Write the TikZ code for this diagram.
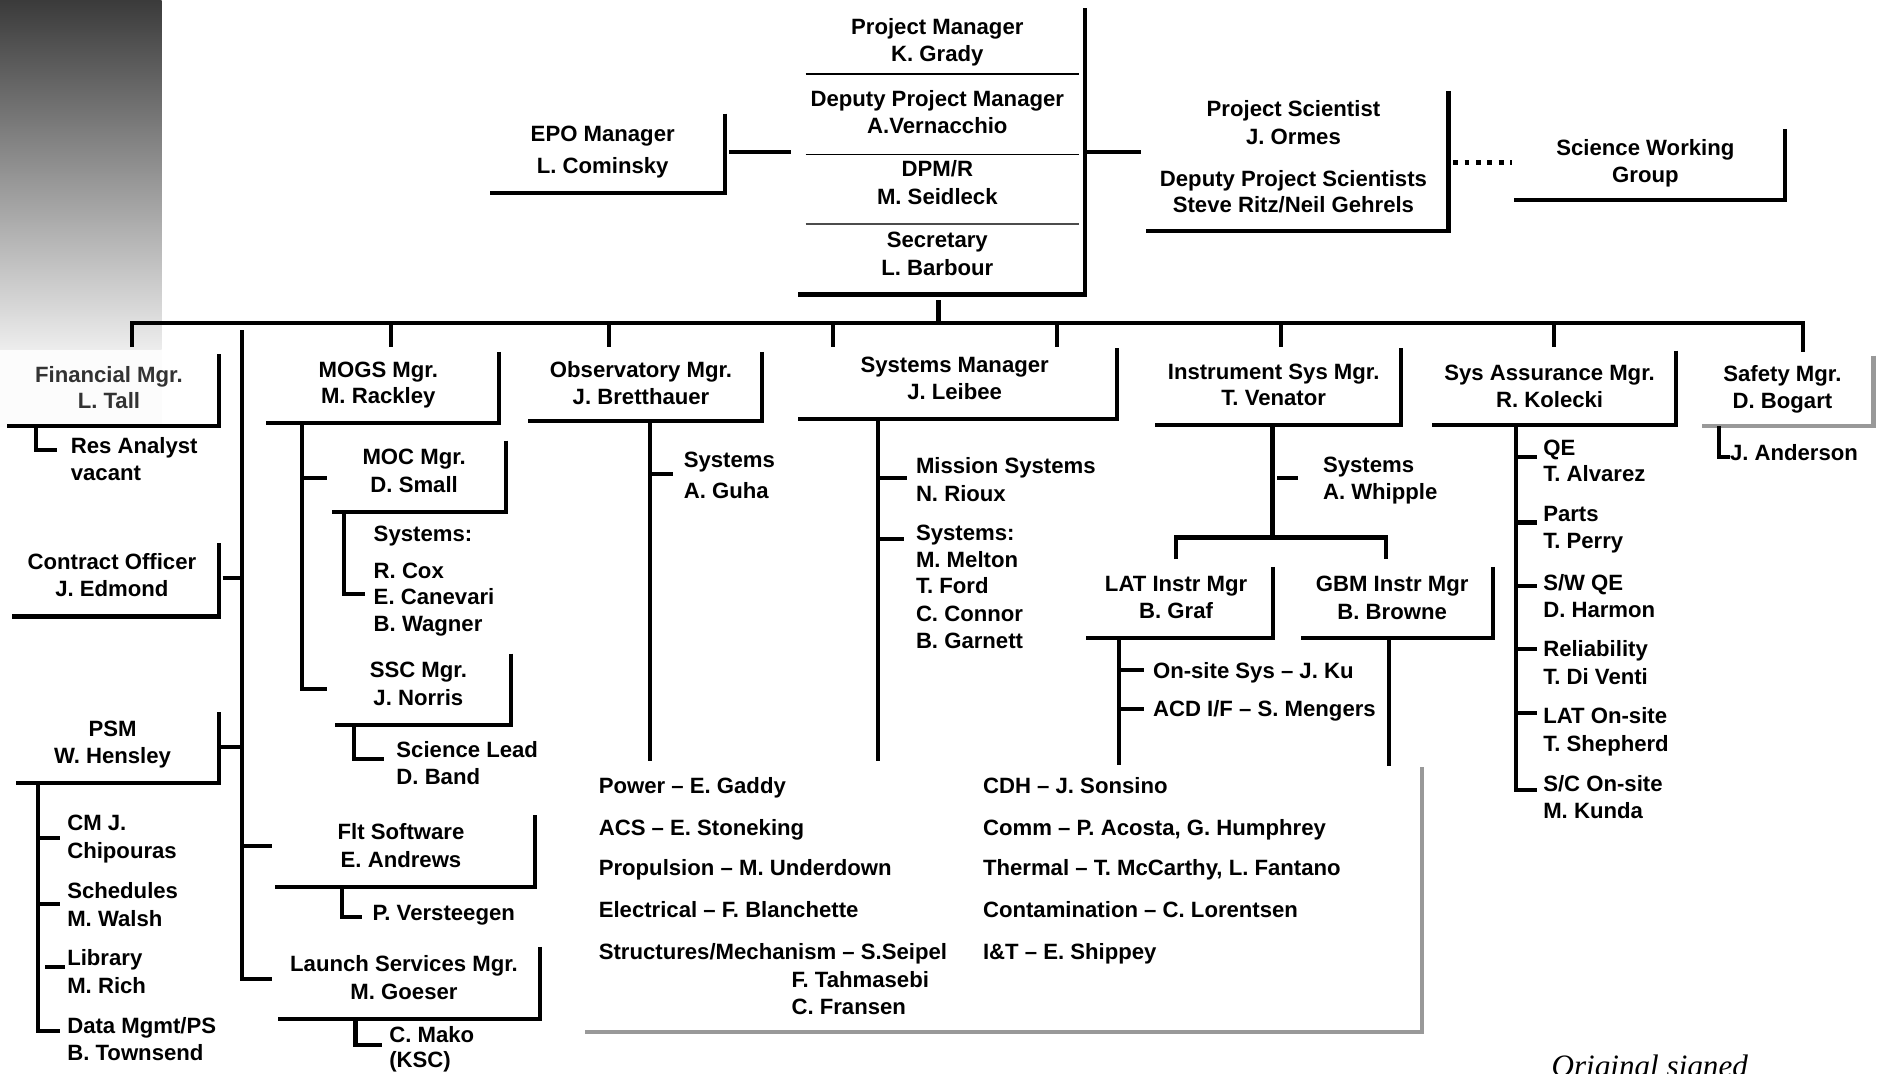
\documentclass[tikz,border=0pt]{standalone}
\usepackage{fontspec}
\setmainfont{Liberation Sans}
\newfontfamily\sigfont{Liberation Serif}
\begin{document}
\begin{tikzpicture}[x=1pt,y=-1pt,
  ln/.style={line width=3.4pt, line join=miter},
  sepline/.style={line width=1.3pt},
  gln/.style={line width=3.6pt, draw=black!40, line join=miter},
  tx/.style={font=\fontsize{18.5}{23}\selectfont\bfseries, align=center, anchor=north, inner sep=0pt},
  tl/.style={font=\fontsize{18.5}{23}\selectfont\bfseries, align=left, anchor=north west, inner sep=0pt},
  dots/.style={line width=4pt, dash pattern=on 4pt off 5.5pt},
]
\newcommand{\obox}[6][ln]{%
  \coordinate (#2-tr) at (#5,#4);
  \coordinate (#2-br) at (#5,#6);
  \coordinate (#2-bl) at (#3,#6);
  \draw[#1] (#2-tr) -- (#2-br) -- (#2-bl);}
\useasboundingbox (0,0) rectangle (1568,897);
% gradient band
\shade[top color=black!77, bottom color=black!7] (0,0) rectangle (135,292);
\fill[black!1] (0,292) rectangle (135,357);

% ---------- top block ----------
\node[tx] (pm) at (783,15) {Project Manager\\K. Grady};
\node[tx] (dpm) at (783,75) {Deputy Project Manager\\A.Vernacchio};
\node[tx] (dpmr) at (783,134) {DPM/R\\M. Seidleck};
\node[tx] (sec) at (783,194) {Secretary\\L. Barbour};
\coordinate (s1a) at (673,62); \coordinate (s1b) at (901,62);
\coordinate (s2a) at (673,129); \coordinate (s2b) at (901,129);
\coordinate (s3a) at (673,187); \coordinate (s3b) at (901,187);
\draw[sepline] (s1a) -- (s1b);
\draw[sepline] (s2a) -- (s2b);
\draw[sepline, draw=black!70] (s3a) -- (s3b);
\coordinate (pmtop) at (906,7);
\coordinate (pmbr) at (906,246);
\coordinate (pmbl) at (667,246);
\draw[ln] (pmtop) -- (pmbr) -- (pmbl);

\node[tx] (epo) at (503.5,105) {EPO Manager\\[3.5pt]L. Cominsky};
\obox{epob}{409}{95}{606}{161}
\coordinate (epoc1) at (609,127); \coordinate (epoc2) at (661,127);
\draw[ln] (epoc1) -- (epoc2);

\node[tx] (ps) at (1080.5,84) {Project Scientist\\J. Ormes};
\node[tx] (dps) at (1080.5,142) {Deputy Project Scientists\\[-1pt]Steve Ritz/Neil Gehrels};
\obox{psb}{957}{76}{1210}{193}
\coordinate (psc1) at (906,127); \coordinate (psc2) at (953,127);
\draw[ln] (psc1) -- (psc2);
\coordinate (dt1) at (1214,136); \coordinate (dt2) at (1263,136);
\draw[dots] (dt1) -- (dt2);

\node[tx] (swg) at (1374.5,116) {Science Working\\Group};
\obox{swgb}{1265}{108}{1491}{167}

% ---------- bus ----------
\coordinate (busl) at (110,290);
\coordinate (busr) at (1506,294);
\draw[ln] (busl) -- (110,270) -- (1506,270) -- (busr);
\coordinate (pmdown) at (784,251);
\draw[ln] (pmdown) -- (784,270);
\foreach \xx in {327,509,696,883,1070,1298}{\draw[ln] (\xx,270) -- (\xx,290);}

% ---------- left staff ----------
\coordinate (spt) at (202,276); \coordinate (spb) at (202,818);
\draw[ln] (spt) -- (spb) -- (227,818);

\node[tx, text=black!80] (fin) at (91,306) {Financial Mgr.\\[-1pt]L. Tall};
\obox{finb}{6}{296}{183}{356}
\draw[ln] (30,356) -- (30,376) -- (48,376);
\node[tl] (res) at (59,365) {Res Analyst\\vacant};

\node[tx] (con) at (93.5,462) {Contract Officer\\J. Edmond};
\obox{conb}{10}{454}{183}{515}
\draw[ln] (186,482.5) -- (202,482.5);

\node[tx] (psm) at (94,602) {PSM\\W. Hensley};
\obox{psmb}{13}{595}{183}{654}
\draw[ln] (184,624) -- (202,624);
\draw[ln] (32,654) -- (32,861) -- (50,861);
\draw[ln] (32,700) -- (50,700);
\draw[ln] (32,755) -- (50,755);
\draw[ln] (38,808) -- (54,808);
\node[tl] (cm) at (56,681) {CM J.\\Chipouras};
\node[tl] (sch) at (56,737) {Schedules\\M. Walsh};
\node[tl] (lib) at (56,793) {Library\\M. Rich};
\node[tl] (dat) at (56,850) {Data Mgmt/PS\\[-1pt]B. Townsend};

% ---------- MOGS ----------
\node[tx] (mogs) at (316,302) {MOGS Mgr.\\[-1pt]M. Rackley};
\obox{mogsb}{222}{294}{416.5}{353}
\draw[ln] (252,353) -- (252,575.6) -- (273,575.6);
\draw[ln] (252,399.5) -- (273,399.5);
\node[tx] (moc) at (346,375) {MOC Mgr.\\D. Small};
\obox{mocb}{277}{368}{423}{427.6}
\draw[ln] (287.5,427.6) -- (287.5,496) -- (305,496);
\node[tl] (msys) at (312,439) {Systems:};
\node[tl] (mcox) at (312,470) {R. Cox\\[-1pt]E. Canevari\\[-1pt]B. Wagner};
\node[tx] (ssc) at (349.5,553) {SSC Mgr.\\J. Norris};
\obox{sscb}{280}{546}{427}{606}
\draw[ln] (296,606) -- (296,634) -- (321,634);
\node[tl] (sci) at (331,619) {Science Lead\\D. Band};

\draw[ln] (202,707) -- (227,707);
\node[tx] (flt) at (335,688) {Flt Software\\E. Andrews};
\obox{fltb}{230}{681}{447}{741}
\draw[ln] (285.5,741) -- (285.5,766) -- (302,766);
\node[tl] (ver) at (311,756) {P. Versteegen};

\node[tx] (lau) at (337.5,798) {Launch Services Mgr.\\M. Goeser};
\obox{laub}{232}{791}{451}{851}
\draw[ln] (297,851) -- (297,873) -- (319,873);
\node[tl] (mako) at (325,857) {C. Mako\\[-2pt](KSC)};

% ---------- Observatory ----------
\node[tx] (obs) at (535.5,302) {Observatory Mgr.\\[-1pt]J. Bretthauer};
\obox{obsb}{441}{294}{636.6}{352}
\draw[ln] (543,352) -- (543,636);
\draw[ln] (543,396) -- (562,396);
\node[tl] (guha) at (571,377) {Systems\\[3.5pt]A. Guha};

% ---------- Systems manager ----------
\node[tx] (sysm) at (797.5,298) {Systems Manager\\J. Leibee};
\obox{sysmb}{667}{291}{933}{350}
\draw[ln] (733.5,350) -- (733.5,636);
\draw[ln] (733.5,399.5) -- (758,399.5);
\draw[ln] (733.5,450) -- (755,450);
\node[tl] (mis) at (765,382) {Mission Systems\\N. Rioux};
\node[tl] (mel) at (765,438) {Systems:\\M. Melton\\[-1pt]T. Ford\\C. Connor\\B. Garnett};

% ---------- Instrument ----------
\node[tx] (inst) at (1064,304) {Instrument Sys Mgr.\\[-1pt]T. Venator};
\obox{instb}{965}{291}{1170}{355}
\draw[ln] (1063,355) -- (1063,449);
\draw[ln] (1067,399.6) -- (1084,399.6);
\node[tl] (whi) at (1105,382) {Systems\\[-1pt]A. Whipple};
\draw[ln] (982,467) -- (982,449) -- (1158,449) -- (1158,467);
\node[tx] (lat) at (982.5,481) {LAT Instr Mgr\\B. Graf};
\obox{latb}{907}{473.5}{1063.4}{533}
\node[tx] (gbm) at (1163,481) {GBM Instr Mgr\\B. Browne};
\obox{gbmb}{1087}{473.5}{1247}{533}
\draw[ln] (935,533) -- (935,639);
\draw[ln] (935,560) -- (955.6,560);
\draw[ln] (935,592) -- (955.6,592);
\node[tl] (ku) at (963,553) {On-site Sys – J. Ku};
\node[tl] (men) at (963,585) {ACD I/F – S. Mengers};
\draw[ln] (1160,533) -- (1160,640);

% ---------- bottom list ----------
\coordinate (gtr) at (1188,641); \coordinate (gbr) at (1188,862); \coordinate (gbl) at (489,862);
\draw[gln] (gtr) -- (gbr) -- (gbl);
\node[tl] (b1) at (500,649) {Power – E. Gaddy};
\node[tl] (b2) at (500,684) {ACS – E. Stoneking};
\node[tl] (b3) at (500,718) {Propulsion – M. Underdown};
\node[tl] (b4) at (500,753) {Electrical – F. Blanchette};
\node[tl] (b5) at (500,788) {Structures/Mechanism – S.Seipel};
\node[tl] (b6) at (661,811) {F. Tahmasebi\\C. Fransen};
\node[tl] (c1) at (821,649) {CDH – J. Sonsino};
\node[tl] (c2) at (821,684) {Comm – P. Acosta, G. Humphrey};
\node[tl] (c3) at (821,718) {Thermal – T. McCarthy, L. Fantano};
\node[tl] (c4) at (821,753) {Contamination – C. Lorentsen};
\node[tl] (c5) at (821,788) {I\&T – E. Shippey};

% ---------- Sys Assurance ----------
\node[tx] (sa) at (1294.5,305) {Sys Assurance Mgr.\\[-1pt]R. Kolecki};
\obox{sab}{1196}{293}{1400}{355}
\draw[ln] (1266.6,355) -- (1266.6,660) -- (1284,660);
\foreach \yy in {381.5,436.5,489.5,541.8,596}{\draw[ln] (1266.6,\yy) -- (1284,\yy);}
\node[tl] (qe) at (1289,367) {QE\\[-1pt]T. Alvarez};
\node[tl] (par) at (1289,423) {Parts\\[-1pt]T. Perry};
\node[tl] (swq) at (1289,480) {S/W QE\\[-1pt]D. Harmon};
\node[tl] (rel) at (1289,535) {Reliability\\T. Di Venti};
\node[tl] (los) at (1289,591) {LAT On-site\\T. Shepherd};
\node[tl] (sco) at (1289,648) {S/C On-site\\[-1pt]M. Kunda};

% ---------- Safety ----------
\node[tx] (saf) at (1489,305) {Safety Mgr.\\D. Bogart};
\obox[gln]{safb}{1422}{297}{1565}{356}
\draw[ln] (1435.7,356) -- (1435.7,381.5) -- (1445,381.5);
\node[tl] (and) at (1445,371) {J. Anderson};

% signature (cut by the lower edge, as in the original)
\node[anchor=base west, inner sep=0pt, font=\sigfont\itshape\fontsize{26}{30}\selectfont] (sig) at (1296,899) {Original signed};
\end{tikzpicture}
\end{document}
